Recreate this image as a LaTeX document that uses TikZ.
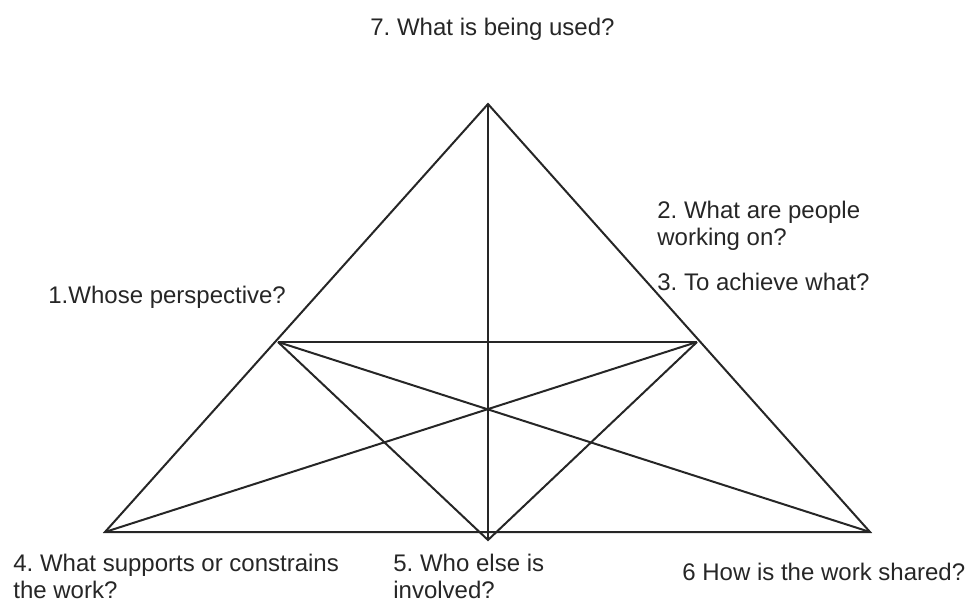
\documentclass[tikz,border=0pt]{standalone}
\usepackage{fontspec}
\setmainfont{Liberation Sans}
\frenchspacing
\begin{document}
\begin{tikzpicture}[x=0.5pt,y=-0.5pt,
  edge/.style={line width=1pt,draw=black!85,line join=miter},
  lbl/.style={inner sep=0pt,anchor=base west,align=left,font=\fontsize{12}{13.5}\selectfont\frenchspacing,text=black!85}]
\useasboundingbox (0,0) rectangle (966,602);
\coordinate (A) at (488,104);
\coordinate (L) at (105,532);
\coordinate (R) at (870,532);
\coordinate (ML) at (278,342);
\coordinate (MR) at (697,342);
\coordinate (B) at (488,540);
\draw[edge] (A) -- (L) -- (R) -- cycle;
\draw[edge] (A) -- (B);
\draw[edge] (ML) -- (MR);
\draw[edge] (ML) -- (B) -- (MR);
\draw[edge] (L) -- (MR);
\draw[edge] (R) -- (ML);
\node[lbl] (t7) at (370,35) {7. What is being used?};
\node[lbl] (t1) at (48,303) {1.Whose perspective?};
\node[lbl] (t2) at (657,245) {2. What are people\\working on?};
\node[lbl] (t3) at (657,290) {3. To achieve what?};
\node[lbl] (t4) at (13,598) {4. What supports or constrains\\the work?};
\node[lbl] (t5) at (393,598) {5. Who else is\\involved?};
\node[lbl] (t6) at (682,580) {6 How is the work shared?};
\end{tikzpicture}
\end{document}
